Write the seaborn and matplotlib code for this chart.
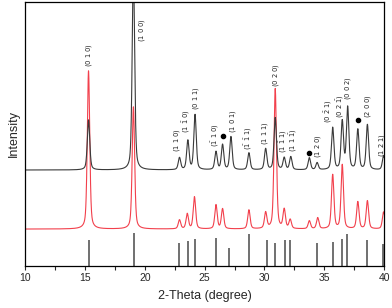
import numpy as np
import pandas as pd
import seaborn as sns
import matplotlib.pyplot as plt

# --- DATA ---
# measured pattern 1 (black, upper trace)
black_pos = [15.3, 19.05, 22.9, 23.6, 24.2, 25.95, 26.5, 27.2, 28.7, 30.1, 30.9,
             31.65, 32.2, 33.75, 34.4, 35.7, 36.5, 36.95, 37.8, 38.6, 39.95]
black_int = [50, 200, 12, 29, 55, 18, 25, 33, 17, 21, 52,
             12, 13, 12, 7, 42, 48, 62, 40, 45, 14]
black_base = 96

# measured pattern 2 (red, middle trace)
red_pos = [15.3, 19.05, 22.9, 23.55, 24.15, 25.95, 26.5, 28.7, 30.1, 30.9,
           31.65, 32.15, 33.75, 34.45, 35.7, 36.5, 37.8, 38.6, 39.95]
red_int = [158, 122, 9, 15, 32, 24, 20, 19, 16, 140,
           19, 9, 8, 11, 54, 64, 27, 28, 17]
red_base = 37

# reference sticks (bottom)
ref_pos = [15.3, 19.1, 22.9, 23.6, 24.2, 25.95, 27.0, 28.7, 30.2, 30.9,
           31.7, 32.1, 34.4, 35.7, 36.5, 36.9, 38.6, 39.9]
ref_int = [26, 33, 23, 25, 27, 28, 18, 32, 26, 23,
           26, 26, 23, 24, 27, 32, 26, 22]

# hkl labels: text, x (2-theta), y (bottom of text)
hkl_text = ['0 1 0', '1 0 0', '1 1 0', '1 -1 0', '0 1 1', '-1 1 0', '1 0 1',
            '-1 -1 1', '1 1 1', '0 2 0', '1 -1 1', '1 1 -1', '1 2 0',
            '0 -2 1', '0 2 -1', '0 0 2', '2 0 0', '1 2 1']
hkl_x = [15.35, 19.77, 22.67, 23.51, 24.29, 25.87, 27.40,
         28.65, 30.05, 30.97, 31.55, 32.45, 34.48,
         35.36, 36.30, 36.98, 38.65, 39.80]
hkl_y = [199, 224, 114, 133, 156, 119, 133,
         116, 121, 179, 113, 114, 108,
         143, 148, 166, 148, 109]

# impurity markers
dot_x = [26.53, 33.73, 37.82]
dot_y = [130, 113, 146]


def profile(x, pos, amp, base, fwhm=0.24, eta=0.45):
    y = np.full_like(x, base, dtype=float)
    for p, a in zip(pos, amp):
        d = (x - p) / (fwhm / 2)
        lor = 1 / (1 + d ** 2)
        gau = np.exp(-np.log(2) * d ** 2)
        y += a * (eta * lor + (1 - eta) * gau)
    return y


def hkl_label(s):
    parts = []
    for t in s.split():
        parts.append(r'\bar{%s}' % t[1] if t.startswith('-') else t)
    return r'$\mathrm{(' + r'\ '.join(parts) + r')}$'


tt = np.arange(10, 40.001, 0.01)
df = pd.DataFrame({
    'two_theta': np.concatenate([tt, tt]),
    'intensity': np.concatenate([profile(tt, red_pos, red_int, red_base),
                                 profile(tt, black_pos, black_int, black_base)]),
    'sample': ['red'] * len(tt) + ['black'] * len(tt),
})

sns.set_theme(style='ticks')
plt.rcParams['font.family'] = ['Liberation Sans', 'DejaVu Sans']
plt.rcParams['mathtext.fontset'] = 'dejavusans'

fig = plt.figure(figsize=(3.92, 3.08), dpi=100)
ax = fig.add_axes([0.064, 0.136, 0.916, 0.858])

sns.lineplot(data=df, x='two_theta', y='intensity', hue='sample',
             palette={'red': '#f2404c', 'black': '#3a3a3a'},
             linewidth=0.8, legend=False, ax=ax, sort=False)
ax.vlines(ref_pos, 0, ref_int, color='#707070', linewidth=1.4)

for t, x, y in zip(hkl_text, hkl_x, hkl_y):
    ax.text(x, y, hkl_label(t), rotation=90, ha='center', va='bottom',
            fontsize=4.9, color='#222222')
ax.scatter(dot_x, dot_y, s=9, color='black', zorder=5)

ax.set_xlim(10, 40)
ax.set_ylim(0, 264)
ax.set_xticks([10, 15, 20, 25, 30, 35, 40])
ax.set_xticks(np.arange(12.5, 40, 5), minor=True)
ax.set_yticks([])
ax.tick_params(axis='x', which='both', direction='out', length=3, width=0.8,
               labelsize=7.5, pad=2)
for sp in ax.spines.values():
    sp.set_visible(True)
    sp.set_linewidth(0.9)
    sp.set_color('black')
ax.set_xlabel('2-Theta (degree)', fontsize=9, labelpad=5)
ax.set_ylabel('Intensity', fontsize=9, labelpad=4)

fig.savefig('out.png', dpi=100)
